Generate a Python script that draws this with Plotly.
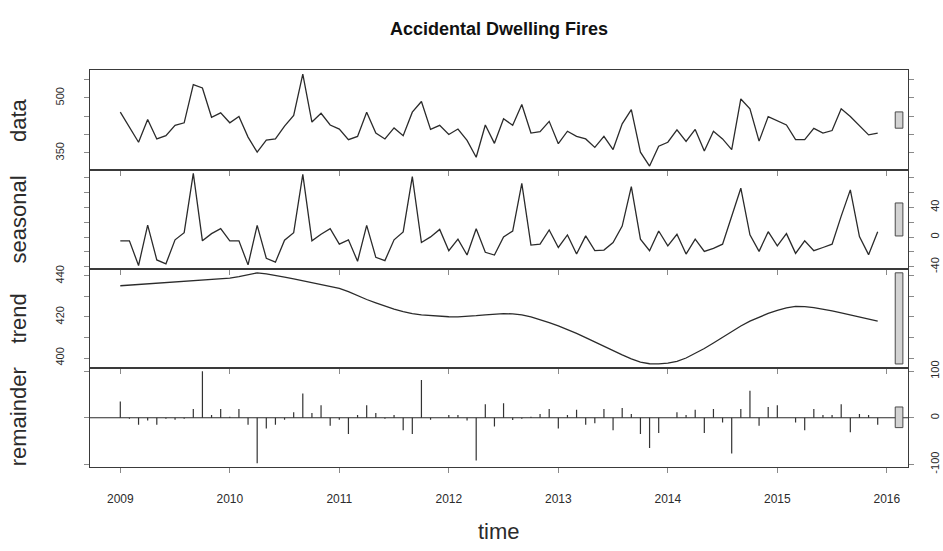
import plotly.graph_objects as go

# ---- monthly series, Jan 2009 .. Dec 2015 ----
start_year = 2009
n_obs = 84
t = [start_year + i / 12 for i in range(n_obs)]

data_vals = [
    461, 420, 379, 441, 388, 397, 425, 432, 536, 527, 447, 459,
    432, 449, 393, 352, 385, 388, 423, 452, 565, 434, 458, 426,
    415, 386, 395, 461, 404, 388, 418, 397, 461, 490, 414, 425,
    400, 415, 384, 338, 426, 376, 443, 425, 482, 404, 408, 436,
    375, 409, 395, 388, 365, 395, 359, 429, 468, 352, 314, 368,
    379, 413, 381, 414, 355, 409, 388, 359, 497, 470, 382, 449,
    438, 426, 386, 386, 417, 404, 411, 470, 449, 425, 399, 404,
]

seasonal_vals = [
    -5.0, -5.0, -38.2, 16.2, -30.7, -36.0, -3.7, 6.0, 85.7, -5.0, 4.7, 11.3,
    -5.0, -5.0, -37.4, 15.8, -28.5, -33.8, -4.2, 6.0, 84.4, -5.0, 3.8, 11.3,
    -9.5, -3.7, -32.5, 15.8, -27.2, -31.6, -3.7, 6.9, 81.3, -7.3, 0.3, 10.4,
    -18.3, -2.8, -24.1, 11.3, -20.5, -24.1, 0.3, 8.2, 72.4, -10.8, -9.5, 9.6,
    -13.9, 2.9, -22.8, 1.6, -18.3, -17.4, -7.3, 14.9, 68.0, -2.8, -18.3, 8.2,
    -11.7, 3.8, -22.8, -2.8, -19.2, -15.2, -9.5, 29.0, 65.8, 3.0, -19.2, 7.3,
    -11.7, 4.7, -21.9, -5.0, -18.3, -14.0, -9.5, 28.2, 63.6, 0.7, -23.6, 7.3,
]

trend_vals = [
    435.2, 435.5, 435.8, 436.2, 436.5, 436.8, 437.0, 437.2, 437.4, 437.7, 438.0, 438.4,
    438.9, 439.6, 440.6, 441.5, 441.0, 440.3, 439.4, 438.5, 437.6, 436.6, 435.6, 434.8,
    433.9, 432.3, 430.2, 428.5, 426.9, 425.3, 423.8, 422.6, 421.6, 421.0, 420.6, 420.3,
    420.1, 420.0, 420.2, 420.6, 421.0, 421.4, 421.6, 421.5, 421.0, 420.0, 418.7, 417.2,
    415.6, 413.9, 412.0, 409.9, 407.7, 405.5, 403.5, 401.5, 399.6, 398.0, 397.2, 397.1,
    397.5, 398.4, 400.0, 402.1, 404.6, 407.3, 410.1, 412.9, 415.6, 418.0, 420.0, 421.7,
    423.2, 424.4, 425.1, 425.0, 424.5, 423.8, 423.0, 422.0, 421.0, 420.0, 419.0, 418.0,
]

remainder_vals = [
    35, -2, -15, -6, -15, -2, -4, -2, 19, 100, 6, 19,
    2, 19, -15, -98, -23, -15, -4, 12, 52, 10, 27, -17,
    -4, -35, 6, 27, 10, -2, 6, -27, -35, 81, -4, 0,
    6, 6, -6, -92, 29, -19, 31, -5, -2, 2, 8, 19,
    -23, 6, 17, -15, -12, 19, -27, 21, 8, -35, -65, -33,
    0, 12, 6, 17, -33, 19, -10, -77, 19, 58, -17, 23,
    27, 0, -10, -27, 19, 6, 6, 29, -31, 8, 6, -15,
]

panel_names = ["data", "seasonal", "trend", "remainder"]
series = [data_vals, seasonal_vals, trend_vals, remainder_vals]

# y tick positions (pretty values) and which of them carry a label
y_ticks = [
    [350, 400, 450, 500, 550],
    [-40, -20, 0, 20, 40, 60, 80],
    [400, 410, 420, 430, 440],
    [-100, 0, 100],
]
y_tick_labels = [
    ["350", "", "", "500", ""],
    ["-40", "", "0", "", "40", "", ""],
    ["400", "", "420", "", "440"],
    ["-100", "0", "100"],
]
year_ticks = [2009, 2010, 2011, 2012, 2013, 2014, 2015, 2016]

# ---- page geometry (pixels) ----
W, H = 943, 551
left_px, right_px = 90, 908
panel_px = [(65, 167), (167, 269), (269, 370), (370, 472)]

font_family = "Liberation Sans, Arial, sans-serif"
ink = "#2b2b2b"
frame = "#3a3a3a"

x_lo, x_hi = min(t), max(t)
x_ext = (x_hi - x_lo) * 0.04
x_range = [x_lo - x_ext, x_hi + x_ext]

fig = go.Figure()
layout = dict(
    width=W, height=H,
    margin=dict(l=0, r=0, t=0, b=0),
    paper_bgcolor="white", plot_bgcolor="white",
    showlegend=False,
    font=dict(family=font_family, color=ink),
)

shapes = []
annotations = []
ranges = [max(s) - min(s) for s in series]
bar_height = min(ranges)

for k, (name, vals) in enumerate(zip(panel_names, series)):
    idx = "" if k == 0 else str(k + 1)
    xa, ya = "x" + idx, "y" + idx
    top, bot = panel_px[k]
    y_lo, y_hi = min(vals), max(vals)
    y_ext = (y_hi - y_lo) * 0.04
    label_right = (k % 2 == 1)
    last = (k == len(series) - 1)

    if not last:
        fig.add_trace(go.Scatter(
            x=t, y=vals, mode="lines", xaxis=xa, yaxis=ya,
            line=dict(color=ink, width=1.3), hoverinfo="skip"))
    else:
        hx, hy = [], []
        for ti, v in zip(t, vals):
            hx += [ti, ti, None]
            hy += [0, v, None]
        fig.add_trace(go.Scatter(
            x=hx, y=hy, mode="lines", xaxis=xa, yaxis=ya,
            line=dict(color="#333333", width=1.2), hoverinfo="skip"))
        shapes.append(dict(type="line", xref=xa + " domain", yref=ya,
                           x0=0, x1=1, y0=0, y1=0,
                           line=dict(color=ink, width=1.2)))

    layout["xaxis" + idx] = dict(
        domain=[left_px / W, right_px / W], anchor=ya, range=x_range,
        showgrid=False, zeroline=False,
        showline=True, linecolor=frame, linewidth=1.2, mirror=True,
        ticks="outside", ticklen=5, tickcolor="#8a8a8a", tickwidth=1,
        tickvals=year_ticks, ticktext=[str(y) for y in year_ticks],
        showticklabels=last, tickfont=dict(size=12, color=ink),
        ticklabelstandoff=15,
    )
    layout["yaxis" + idx] = dict(
        domain=[1 - bot / H, 1 - top / H], anchor=xa,
        range=[y_lo - y_ext, y_hi + y_ext],
        side="right" if label_right else "left",
        showgrid=False, zeroline=False,
        showline=True, linecolor=frame, linewidth=1.2, mirror="ticks",
        ticks="outside", ticklen=5, tickcolor="#8a8a8a", tickwidth=1,
        tickvals=y_ticks[k], ticktext=y_tick_labels[k],
        tickangle=-90, tickfont=dict(size=11, color=ink),
        ticklabelstandoff=16 if not label_right else 12,
    )

    # grey range bar at the right edge of each panel
    dx = (x_range[1] - x_range[0]) / 64
    mid = (y_lo + y_hi) / 2
    shapes.append(dict(
        type="rect", xref=xa, yref=ya,
        x0=x_range[1] - dx, x1=x_range[1] - 0.4 * dx,
        y0=mid - bar_height / 2, y1=mid + bar_height / 2,
        fillcolor="#d3d3d3", line=dict(color="#4a4a4a", width=1)))

    annotations.append(dict(
        text=name, xref="paper", yref="paper",
        x=18 / W, y=1 - (top + bot) / 2 / H,
        textangle=-90, showarrow=False,
        font=dict(size=22, family=font_family, color=ink),
        xanchor="center", yanchor="middle"))

annotations.append(dict(
    text="<b>Accidental Dwelling Fires</b>", xref="paper", yref="paper",
    x=(left_px + right_px) / 2 / W, y=1 - 23 / H, showarrow=False,
    font=dict(size=18, family=font_family, color="#111111"),
    xanchor="center", yanchor="middle"))
annotations.append(dict(
    text="time", xref="paper", yref="paper",
    x=(left_px + right_px) / 2 / W, y=1 - 538 / H, showarrow=False,
    font=dict(size=22, family=font_family, color=ink),
    xanchor="center", yanchor="middle"))

layout["shapes"] = shapes
layout["annotations"] = annotations
fig.update_layout(**layout)
fig.write_html("out.html")
